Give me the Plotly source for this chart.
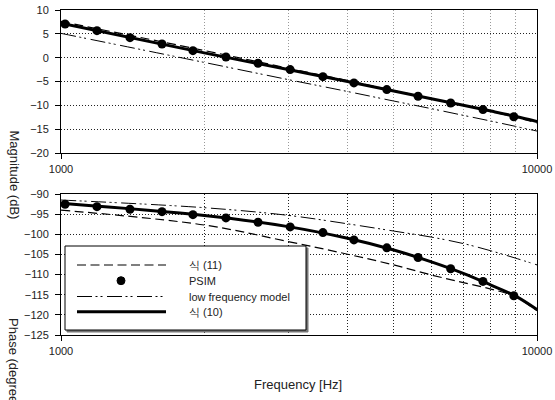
import plotly.graph_objects as go

# ---- data ----
grid_freq = [1000, 2000, 3000, 4000, 5000, 6000, 7000, 8000, 9000, 10000]
psim_freq = [1020, 1190, 1396, 1630, 1893, 2221, 2594, 3030, 3550, 4125, 4836, 5625, 6586, 7700, 8939]

mag_eq11 = [7.6, 1.5, -2.2, -4.8, -6.9, -8.6, -10.0, -11.3, -12.5, -13.7]
mag_psim = [7.07, 5.67, 4.2, 2.87, 1.47, 0.15, -1.18, -2.5, -3.98, -5.3, -6.7, -8.1, -9.5, -10.9, -12.4]
mag_lowf = [5.1, -1.0, -4.6, -7.1, -9.1, -10.7, -12.1, -13.3, -14.4, -15.4]
mag_eq10 = [7.25, 1.0, -2.5, -5.0, -7.0, -8.6, -10.0, -11.2, -12.3, -13.4]

ph_eq11 = [-94.0, -97.7, -101.8, -104.95, -107.6, -110.1, -112.0, -113.6, -115.5, -119.0]
ph_psim = [-92.55, -93.14, -93.79, -94.38, -95.12, -95.94, -97.0, -98.17, -99.58, -101.39,
           -103.37, -105.77, -108.56, -111.7, -115.25]
ph_lowf = [-91.5, -93.4, -95.3, -97.4, -99.2, -100.7, -102.3, -104.1, -105.9, -107.6]
ph_eq10 = [-92.3, -95.35, -98.1, -101.0, -103.9, -106.85, -109.7, -112.6, -115.3, -118.7]

names = ["식 (11)", "PSIM", "low frequency model", "식 (10)"]
x_ticks = [1000, 10000]
x_ticktext = ["1000", "10000"]
minor_x = [2000, 3000, 4000, 5000, 6000, 7000, 8000, 9000]

FONT = "Liberation Sans, Arial, sans-serif"
DASH11 = "9px,4.5px"
DASHLOW = "15px,3.5px,2px,3px,2px,4.5px"
STYLES = [
    dict(mode="lines", line=dict(color="black", width=1.2, dash=DASH11, shape="spline")),
    dict(mode="markers", marker=dict(color="black", size=9)),
    dict(mode="lines", line=dict(color="black", width=1, dash=DASHLOW, shape="spline")),
    dict(mode="lines", line=dict(color="black", width=3, shape="spline")),
]

fig = go.Figure()

def add_panel(xref, yref, series):
    for i, (xs, ys) in enumerate(series):
        fig.add_trace(go.Scatter(x=xs, y=ys, name=names[i], xaxis=xref, yaxis=yref,
                                 showlegend=False, **STYLES[i]))

add_panel("x", "y", [(grid_freq, mag_eq11), (psim_freq, mag_psim),
                     (grid_freq, mag_lowf), (grid_freq, mag_eq10)])
add_panel("x2", "y2", [(grid_freq, ph_eq11), (psim_freq, ph_psim),
                       (grid_freq, ph_lowf), (grid_freq, ph_eq10)])

L, R, T, B = 61, 18, 10, 65
W, H = 555, 400
pw, ph = W - L - R, H - T - B

def py(v):
    return (H - B - v) / ph

def px(v):
    return (v - L) / pw

xcommon = dict(type="log", range=[3, 4], tickvals=x_ticks, ticktext=x_ticktext,
               showline=True, linecolor="black", linewidth=1, mirror=True,
               ticks="outside", ticklen=5, tickcolor="black", showgrid=False,
               ticklabelstandoff=1, tickfont=dict(family=FONT, size=11, color="#222"),
               zeroline=False)
ycommon = dict(showline=True, linecolor="black", linewidth=1, mirror=True,
               ticks="outside", ticklen=5, tickcolor="black", dtick=5,
               showgrid=True, gridcolor="#222", gridwidth=1, griddash="1px,2px",
               tickfont=dict(family=FONT, size=11, color="#222"), zeroline=False,
               ticklabelstandoff=4)

fig.update_layout(
    width=W, height=H,
    margin=dict(l=L, r=R, t=T, b=B, autoexpand=False),
    paper_bgcolor="white", plot_bgcolor="white",
    font=dict(family=FONT, size=11, color="#222"),
    xaxis=dict(**xcommon, domain=[0, 1], anchor="y",
               minor=dict(tickvals=minor_x, showgrid=True, gridcolor="#999",
                          griddash="1px,2px", gridwidth=1, ticks="")),
    yaxis=dict(**ycommon, domain=[py(153), 1], range=[-20, 10], anchor="x"),
    xaxis2=dict(**xcommon, domain=[0, 1], anchor="y2",
                minor=dict(tickvals=minor_x, showgrid=True, gridcolor="#222",
                           griddash="1px,2px", gridwidth=1, ticks="")),
    yaxis2=dict(**ycommon, domain=[0, py(194)], range=[-125, -90], anchor="x2"),
    showlegend=False,
)

# ---- legend box (drawn by hand to match the original's compact spacing) ----
fig.add_shape(type="rect", xref="paper", yref="paper",
              x0=px(67), x1=px(308), y0=py(332), y1=py(248),
              line=dict(color="#777", width=1), fillcolor="#777", layer="above")
fig.add_shape(type="rect", xref="paper", yref="paper",
              x0=px(65), x1=px(306), y0=py(330), y1=py(246),
              line=dict(color="black", width=1), fillcolor="white", layer="above")
row_y = [265, 280.7, 296.5, 311.7]
for i, yy in enumerate(row_y):
    if i == 1:
        fig.add_shape(type="circle", xref="paper", yref="paper",
                      x0=px(117), x1=px(125), y0=py(yy + 4), y1=py(yy - 4),
                      line=dict(color="black", width=1), fillcolor="black", layer="above")
    else:
        ln = STYLES[i]["line"]
        fig.add_shape(type="line", xref="paper", yref="paper",
                      x0=px(77), x1=px(166), y0=py(yy), y1=py(yy),
                      line=dict(color="black", width=ln["width"], dash=ln.get("dash", "solid")),
                      layer="above")
    fig.add_annotation(text=names[i], xref="paper", yref="paper",
                       x=px(187), y=py(yy), xanchor="left", yanchor="middle",
                       showarrow=False, font=dict(family=FONT, size=11, color="#222"))

fig.add_annotation(text="Magnitude (dB)", textangle=90, xref="paper", yref="paper",
                   x=px(14), y=py(128), xanchor="center", yanchor="top",
                   showarrow=False, font=dict(family=FONT, size=13, color="#222"))
fig.add_annotation(text="Phase (degrees)", textangle=90, xref="paper", yref="paper",
                   x=px(14), y=py(316), xanchor="center", yanchor="top",
                   showarrow=False, font=dict(family=FONT, size=13, color="#222"))
fig.add_annotation(text="Frequency [Hz]", xref="paper", yref="paper",
                   x=px(298), y=py(385), xanchor="center", yanchor="middle",
                   showarrow=False, font=dict(family=FONT, size=13, color="#222"))

fig.write_html("out.html")
